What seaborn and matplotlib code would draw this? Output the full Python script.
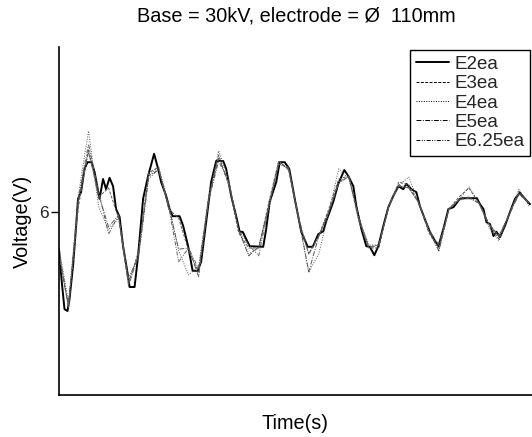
import numpy as np
import pandas as pd
import matplotlib
matplotlib.use("Agg")
import matplotlib.pyplot as plt
import seaborn as sns

# ---------------- data ----------------
t_main = [0.01, 0.06, 0.12, 0.18, 0.22, 0.29, 0.34, 0.39, 0.45, 0.52, 0.58, 0.66, 0.72, 0.82,
          0.89, 0.95, 1.02, 1.09, 1.15, 1.22, 1.29, 1.39, 1.42, 1.52, 1.59, 1.69, 1.79, 1.91,
          1.99, 2.05, 2.15, 2.22, 2.28, 2.42, 2.49, 2.59, 2.68, 2.78, 2.85, 2.95, 3.05, 3.15,
          3.29, 3.35, 3.45, 3.55, 3.62, 3.68, 3.82, 4.09, 4.15, 4.22, 4.35, 4.42, 4.52, 4.61,
          4.72, 4.85, 4.98, 5.08, 5.19, 5.29, 5.35, 5.49, 5.59, 5.71, 5.79, 5.89, 5.95, 6.05,
          6.15, 6.22, 6.31, 6.39, 6.49, 6.59, 6.69, 6.79, 6.89, 6.95, 7.05, 7.15, 7.22, 7.32,
          7.42, 7.52, 7.59, 7.69, 7.79, 7.89, 8.02, 8.08, 8.36, 8.42, 8.49, 8.55, 8.62, 8.69,
          8.75, 8.82, 8.92, 9.02, 9.12, 9.22, 9.32, 9.42]
e2ea = [5.38, 4.88, 4.38, 4.35, 4.55, 5.10, 5.63, 6.22, 6.33, 6.72, 6.83, 6.83, 6.67, 6.22,
        6.55, 6.38, 6.57, 6.43, 6.05, 5.92, 5.43, 4.93, 4.75, 4.75, 5.27, 6.22, 6.60, 6.97,
        6.72, 6.50, 6.27, 6.05, 5.93, 5.93, 5.77, 5.43, 5.02, 5.02, 5.17, 5.83, 6.50, 6.85,
        6.85, 6.72, 6.27, 5.93, 5.67, 5.67, 5.43, 5.42, 5.72, 6.17, 6.50, 6.83, 6.83, 6.72,
        6.22, 5.67, 5.42, 5.42, 5.63, 5.68, 5.85, 6.17, 6.47, 6.70, 6.60, 6.43, 6.10, 5.72,
        5.43, 5.42, 5.28, 5.43, 5.77, 6.08, 6.27, 6.43, 6.38, 6.47, 6.38, 6.33, 6.10, 5.88,
        5.67, 5.52, 5.43, 5.72, 6.05, 6.08, 6.22, 6.23, 6.23, 6.13, 6.05, 5.83, 5.80, 5.60,
        5.67, 5.58, 5.77, 6.00, 6.22, 6.32, 6.22, 6.13]

t_other = [0.0, 0.2, 0.4, 0.6, 0.8, 1.0, 1.2, 1.4, 1.6, 1.8, 2.0, 2.2, 2.4, 2.6, 2.8, 3.0,
           3.2, 3.4, 3.6, 3.8, 4.0, 4.2, 4.4, 4.6, 4.8, 5.0, 5.2, 5.4, 5.6, 5.8, 6.0, 6.2,
           6.4, 6.6, 6.8, 7.0, 7.2, 7.4, 7.6, 7.8, 8.0, 8.2, 8.4, 8.6, 8.8, 9.0, 9.2, 9.4]
e3ea = [5.30, 4.45, 6.10, 7.05, 6.25, 6.40, 5.90, 4.80, 5.35, 6.65, 6.75, 6.05, 5.90, 5.35,
        5.00, 6.25, 6.95, 6.45, 5.65, 5.40, 5.40, 6.15, 6.85, 6.70, 5.85, 5.30, 5.60, 6.05,
        6.55, 6.60, 5.85, 5.40, 5.40, 6.10, 6.50, 6.45, 6.15, 5.65, 5.40, 6.05, 6.25, 6.40,
        6.15, 5.80, 5.55, 5.95, 6.35, 6.15]
e4ea = [5.45, 4.50, 6.30, 7.35, 6.10, 5.70, 5.90, 4.85, 5.30, 6.60, 6.75, 6.15, 5.35, 4.95,
        5.10, 6.25, 7.02, 6.55, 5.70, 5.30, 5.40, 6.05, 6.80, 6.75, 5.85, 5.00, 5.30, 6.00,
        6.72, 6.55, 5.90, 5.45, 5.45, 6.10, 6.45, 6.58, 6.15, 5.70, 5.35, 6.05, 6.20, 6.42,
        6.15, 5.75, 5.52, 5.95, 6.38, 6.10]
e5ea = [5.35, 4.40, 6.20, 7.00, 6.30, 5.75, 5.95, 4.77, 5.30, 6.60, 6.70, 6.10, 5.38, 5.40,
        4.92, 6.20, 6.90, 6.50, 5.70, 5.27, 5.42, 6.10, 6.85, 6.70, 5.90, 5.00, 5.60, 6.00,
        6.50, 6.60, 5.90, 5.40, 5.45, 6.10, 6.45, 6.40, 6.15, 5.70, 5.35, 6.05, 6.20, 6.25,
        6.15, 5.80, 5.60, 5.95, 6.30, 6.15]
e625ea = [5.40, 4.42, 6.25, 7.13, 6.35, 5.63, 5.95, 4.90, 5.25, 6.55, 6.72, 6.10, 5.17, 5.40,
          5.05, 6.20, 6.85, 6.50, 5.70, 5.45, 5.27, 6.10, 6.80, 6.73, 5.90, 5.30, 5.60, 6.00,
          6.47, 6.60, 5.90, 5.42, 5.45, 6.10, 6.43, 6.40, 6.15, 5.70, 5.45, 6.05, 6.20, 6.23,
          6.15, 5.80, 5.60, 5.95, 6.30, 6.15]

labels = ["E2ea", "E3ea", "E4ea", "E5ea", "E6.25ea"]

# ---------------- style ----------------
sns.set_theme(style="ticks")
plt.rcParams["font.family"] = ["Liberation Sans", "DejaVu Sans"]

W, H = 532, 437
fig = plt.figure(figsize=(W / 100, H / 100), dpi=100)
ax_l, ax_t, ax_b = 58.5, 47, 395
ax = fig.add_axes([ax_l / W, 1 - ax_b / H, 1 - ax_l / W, (ax_b - ax_t) / H])

others = [
    (e3ea, labels[1], (0, (3, 1.5))),
    (e4ea, labels[2], (0, (1, 1.5))),
    (e5ea, labels[3], (0, (5, 1.5, 1, 1.5))),
    (e625ea, labels[4], (0, (4, 1.5, 1, 1.5, 1, 1.5))),
]

sns.lineplot(x=t_main, y=e2ea, ax=ax, color="black", linewidth=1.4,
             label=labels[0], estimator=None, sort=False)
for vals, lab, ls in others:
    sns.lineplot(x=t_other, y=vals, ax=ax, color="0.35", linewidth=0.7,
                 linestyle=ls, label=lab, estimator=None, sort=False)

ax.set_xlim(0, 9.46)
ax.set_ylim(2.95, 8.75)
ax.set_xticks([])
ax.set_yticks([6])
ax.set_yticklabels(["6"], fontsize=12.5)
ax.tick_params(axis="y", length=5.5, width=1, color="black", pad=1.5)

for s in ["top", "right"]:
    ax.spines[s].set_visible(False)
for s in ["left", "bottom"]:
    ax.spines[s].set_color("black")
    ax.spines[s].set_linewidth(1.2)

ax.set_xlabel("Time(s)", fontsize=14.3, labelpad=14, color="black")
ax.set_ylabel("Voltage(V)", fontsize=14.3, labelpad=5, color="black")
fig.text(296 / W, 1 - 22 / H, "Base = 30kV, electrode = \u00d8  110mm",
         ha="center", va="baseline", fontsize=14.3, color="black")

leg = ax.legend(loc="upper right", bbox_to_anchor=((530 - ax_l) / (W - ax_l), 1 - 3 / (ax_b - ax_t)),
                fontsize=13.5, frameon=True, fancybox=False, edgecolor="black", framealpha=1,
                borderpad=0.3, labelspacing=0.12, handlelength=1.75,
                handletextpad=0.3, borderaxespad=0)
leg.get_frame().set_linewidth(1.0)
for h in leg.get_lines():
    h.set_color("black")

fig.savefig("out.png", dpi=100)
